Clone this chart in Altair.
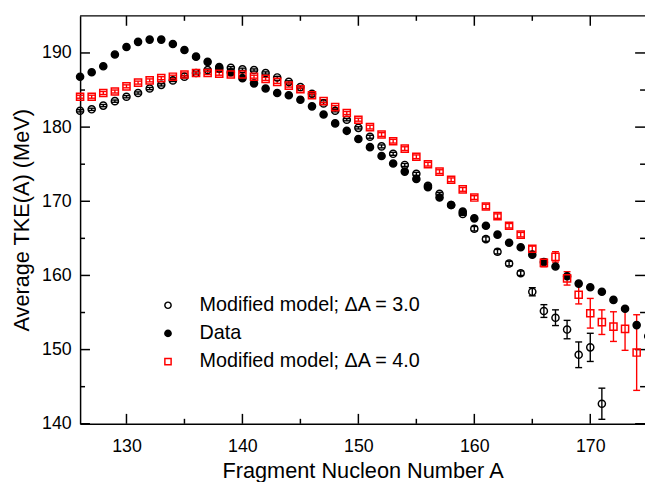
import altair as alt
import pandas as pd

# ---------------- data ----------------
A_data = list(range(126, 176))
data_tke = [186.8, 187.4, 188.2, 189.8, 190.8, 191.5, 191.8, 191.8, 191.2, 190.4,
            189.5, 188.8, 188.1, 187.4, 186.6, 185.9, 185.2, 184.6, 184.3, 183.7,
            182.8, 181.7, 180.5, 179.5, 178.4, 177.3, 176.1, 175.1, 174.0, 173.0,
            171.9, 170.5, 169.5, 168.6, 167.7, 166.7, 165.5, 164.4, 163.8, 162.8,
            161.8, 161.2, 159.9, 158.9, 158.4, 157.8, 156.7, 155.5, 153.3, 151.8]

A_m3 = list(range(126, 172))
m3_tke = [182.2, 182.4, 182.9, 183.5, 184.1, 184.6, 185.2, 185.7, 186.3, 186.8,
          187.3, 187.7, 187.9, 188.0, 187.8, 187.7, 187.3, 186.7, 186.1, 185.4,
          184.5, 183.2, 182.2, 181.0, 179.9, 178.7, 177.4, 176.4, 174.9, 173.7,
          172.1, 171.0, 169.5, 168.3, 166.3, 164.9, 163.2, 161.6, 160.3, 157.8,
          155.2, 154.3, 152.7, 149.3, 150.3, 142.7]
m3_err = [0.15] * 25 + [0.2] * 9 + [0.3] * 5 + [0.55, 0.86, 1.06, 1.24, 1.73, 1.9, 2.1]

A_m4 = list(range(126, 175))
m4_tke = [184.1, 184.1, 184.6, 184.8, 185.5, 186.0, 186.3, 186.6, 186.8, 187.1,
          187.3, 187.3, 187.2, 187.1, 187.1, 186.8, 186.5, 186.1, 185.6, 185.1,
          184.3, 183.5, 182.7, 181.9, 181.0, 180.0, 179.0, 178.1, 177.1, 176.0,
          175.0, 174.0, 172.9, 171.6, 170.5, 169.3, 168.0, 166.7, 165.5, 163.6,
          161.7, 162.5, 159.6, 157.4, 154.9, 153.7, 153.1, 152.8, 149.6]
m4_err = [0.2] * 25 + [0.25] * 10 + [0.3] * 4 + [0.35, 0.53, 0.7, 0.9, 1.24, 2.0, 1.66, 2.0, 2.9, 5.1]

series_names = ["Modified model; \u0394A = 3.0", "Data", "Modified model; \u0394A = 4.0"]

x_major = [130, 140, 150, 160, 170]
x_minor = [135, 145, 155, 165]
y_major = [140, 150, 160, 170, 180, 190]
y_minor = [145, 155, 165, 175, 185]

# ---------------- tables ----------------
pts = pd.concat([
    pd.DataFrame({"A": A_m3, "TKE": m3_tke, "series": series_names[0]}),
    pd.DataFrame({"A": A_data, "TKE": data_tke, "series": series_names[1]}),
    pd.DataFrame({"A": A_m4, "TKE": m4_tke, "series": series_names[2]}),
], ignore_index=True)

m3 = pd.DataFrame({"A": A_m3, "TKE": m3_tke, "err": m3_err})
m3["lo"] = m3["TKE"] - m3["err"]
m3["hi"] = m3["TKE"] + m3["err"]
m4 = pd.DataFrame({"A": A_m4, "TKE": m4_tke, "err": m4_err})
m4["lo"] = m4["TKE"] - m4["err"]
m4["hi"] = m4["TKE"] + m4["err"]

xmaj = pd.DataFrame({"A": x_major})
xmin = pd.DataFrame({"A": x_minor})
ymaj = pd.DataFrame({"TKE": y_major})
ymin = pd.DataFrame({"TKE": y_minor})
frame = pd.DataFrame({"k": [0]})

W, H = 572, 413
FONT = "Liberation Sans"

xs = alt.Scale(domain=[126, 174.72], nice=False, zero=False)
ys = alt.Scale(domain=[140, 195], nice=False, zero=False)

x_axis = alt.Axis(values=x_major, title="Fragment Nucleon Number A", ticks=False,
                  grid=False, domain=True, domainColor="black", domainWidth=1.5,
                  labelFont=FONT, labelFontSize=18, labelColor="black", labelPadding=14,
                  labelFlush=False, labelOverlap=False,
                  titleFont=FONT, titleFontSize=22, titleFontWeight="normal",
                  titleColor="black", titleY=47, titleBaseline="middle")
y_axis = alt.Axis(values=y_major, title="Average TKE(A) (MeV)", ticks=False,
                  grid=False, domain=True, domainColor="black", domainWidth=1.5,
                  labelFont=FONT, labelFontSize=18, labelColor="black", labelPadding=9,
                  labelFlush=False, labelOverlap=False,
                  titleFont=FONT, titleFontSize=22, titleFontWeight="normal",
                  titleColor="black", titleX=-59, titleY=206.5, titleBaseline="middle",
                  titleAngle=270)


def X(field="A"):
    return alt.X(f"{field}:Q", scale=xs, axis=x_axis)


def Y(field="TKE"):
    return alt.Y(f"{field}:Q", scale=ys, axis=y_axis)


legend = alt.Legend(title=None, orient="none", legendX=79, legendY=283,
                    labelFont=FONT, labelFontSize=20, labelColor="black",
                    labelOffset=22, labelLimit=0, rowPadding=8.5, padding=0,
                    symbolSize=40, symbolStrokeWidth=1.5)

# ---------------- error bars ----------------
def errorbars(df, color):
    rule = alt.Chart(df).mark_rule(color=color, strokeWidth=1.4).encode(
        x=X(), y=Y("lo"), y2="hi")
    cap_lo = alt.Chart(df).mark_tick(color=color, orient="horizontal", size=7,
                                     thickness=1.4, opacity=1).encode(x=X(), y=Y("lo"))
    cap_hi = alt.Chart(df).mark_tick(color=color, orient="horizontal", size=7,
                                     thickness=1.4, opacity=1).encode(x=X(), y=Y("hi"))
    return [rule, cap_lo, cap_hi]


points = alt.Chart(pts).mark_point(size=52, strokeWidth=1.5, opacity=1).encode(
    x=X(), y=Y(),
    shape=alt.Shape("series:N", scale=alt.Scale(domain=series_names,
                    range=["circle", "circle", "square"]), legend=legend),
    fill=alt.Fill("series:N", scale=alt.Scale(domain=series_names,
                  range=["transparent", "black", "transparent"]), legend=legend),
    stroke=alt.Stroke("series:N", scale=alt.Scale(domain=series_names,
                      range=["black", "black", "red"]), legend=legend),
    order=alt.Order("series_order:Q"),
).transform_calculate(
    series_order=f"indexof({series_names!r}, datum.series)"
)

# ---------------- frame ticks (inward) ----------------
tw = 1.5
ticks = [
    alt.Chart(xmaj).mark_rule(color="black", strokeWidth=tw).encode(
        x=X(), y=alt.value(H), y2=alt.value(H - 10)),
    alt.Chart(xmaj).mark_rule(color="black", strokeWidth=tw).encode(
        x=X(), y=alt.value(0), y2=alt.value(10)),
    alt.Chart(xmin).mark_rule(color="black", strokeWidth=tw).encode(
        x=X(), y=alt.value(H), y2=alt.value(H - 5)),
    alt.Chart(xmin).mark_rule(color="black", strokeWidth=tw).encode(
        x=X(), y=alt.value(0), y2=alt.value(5)),
    alt.Chart(ymaj).mark_rule(color="black", strokeWidth=tw).encode(
        y=Y(), x=alt.value(0), x2=alt.value(10)),
    alt.Chart(ymaj).mark_rule(color="black", strokeWidth=tw).encode(
        y=Y(), x=alt.value(W - 10), x2=alt.value(W)),
    alt.Chart(ymin).mark_rule(color="black", strokeWidth=tw).encode(
        y=Y(), x=alt.value(0), x2=alt.value(5)),
    alt.Chart(ymin).mark_rule(color="black", strokeWidth=tw).encode(
        y=Y(), x=alt.value(W - 5), x2=alt.value(W)),
    alt.Chart(frame).mark_rule(color="black", strokeWidth=tw).encode(
        y=alt.value(0), x=alt.value(0), x2=alt.value(W)),
]

layers = ticks + errorbars(m3, "black") + errorbars(m4, "red") + [points]

chart = alt.layer(*layers).properties(
    width=W, height=H,
    autosize=alt.AutoSizeParams(type="none"),
    padding={"left": 73, "top": 5, "right": 0, "bottom": 56},
    background="white",
).configure_view(stroke=None)

chart.save("out.html", embed_options={"renderer": "svg", "actions": False})
